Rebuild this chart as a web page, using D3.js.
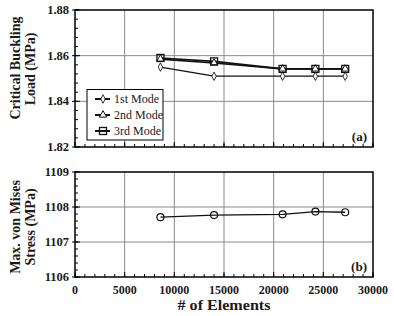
<!DOCTYPE html>
<html><head><meta charset="utf-8">
<script src="https://cdn.jsdelivr.net/npm/d3@7"></script>
<style>body{margin:0;background:#fff}</style>
</head><body><svg id="c" width="394" height="316" style="font-family:'Liberation Serif','Times New Roman','DejaVu Serif',serif"></svg>
<script>
const elements = [8600, 14000, 20900, 24200, 27200];
const mode1 = [1.855, 1.851, 1.851, 1.851, 1.851];
const mode2 = [1.8585, 1.8568, 1.8542, 1.8542, 1.8542];
const mode3 = [1.8590, 1.8575, 1.8542, 1.8542, 1.8542];
const vonMises = [1107.71, 1107.77, 1107.79, 1107.87, 1107.85];
const xTicks = [0, 5000, 10000, 15000, 20000, 25000, 30000];
const yTicksA = [1.82, 1.84, 1.86, 1.88];
const yTicksB = [1106, 1107, 1108, 1109];
const legendLabels = ["1st Mode", "2nd Mode", "3rd Mode"];

const FONT = "'Liberation Serif','Times New Roman','DejaVu Serif',serif";
const svg = d3.select("#c");
const L = 75, R = 373;
const x = d3.scaleLinear().domain([0, 30000]).range([L, R]);
const yA = d3.scaleLinear().domain([1.82, 1.88]).range([147, 10]);
const yB = d3.scaleLinear().domain([1106, 1109]).range([277, 172]);

function txt(sel, size, weight) {
  return sel.style("font-family", FONT).style("font-size", size + "px")
    .style("font-weight", weight || "bold").style("fill", "#1a1a1a");
}

function panel(y, yTicks, minorStep, fmt, showX) {
  const g = svg.append("g");
  const [y0, y1] = y.range();
  g.selectAll(".gx").data(xTicks.slice(1, -1)).join("line")
    .attr("x1", d => x(d)).attr("x2", d => x(d)).attr("y1", y1).attr("y2", y0)
    .attr("stroke", "#8a8a8a").attr("stroke-width", 1);
  g.selectAll(".gy").data(yTicks.slice(1, -1)).join("line")
    .attr("x1", L).attr("x2", R).attr("y1", d => y(d)).attr("y2", d => y(d))
    .attr("stroke", "#8a8a8a").attr("stroke-width", 1);
  const dom = y.domain();
  const ym = d3.range(dom[0], dom[1] + minorStep / 2, minorStep);
  g.selectAll(".my").data(ym).join("line")
    .attr("x1", L).attr("x2", L + 3).attr("y1", d => y(d)).attr("y2", d => y(d))
    .attr("stroke", "#000").attr("stroke-width", 1);
  g.selectAll(".My").data(yTicks).join("line")
    .attr("x1", L - 3).attr("x2", L + 5).attr("y1", d => y(d)).attr("y2", d => y(d))
    .attr("stroke", "#000").attr("stroke-width", 1);
  const xm = d3.range(0, 30001, 1000);
  g.selectAll(".mx").data(xm).join("line")
    .attr("x1", d => x(d)).attr("x2", d => x(d)).attr("y1", y0).attr("y2", y0 - 3)
    .attr("stroke", "#000").attr("stroke-width", 1);
  g.selectAll(".Mx").data(xTicks).join("line")
    .attr("x1", d => x(d)).attr("x2", d => x(d)).attr("y1", y0).attr("y2", y0 - 5)
    .attr("stroke", "#000").attr("stroke-width", 1);
  g.append("rect").attr("x", L).attr("y", y1).attr("width", R - L).attr("height", y0 - y1)
    .attr("fill", "none").attr("stroke", "#000").attr("stroke-width", 1.5);
  txt(g.selectAll(".yl").data(yTicks).join("text")
    .attr("x", L - 6).attr("y", d => y(d) + 4).attr("text-anchor", "end").text(fmt), 12.5);
  if (showX) {
    txt(g.selectAll(".xl").data(xTicks).join("text")
      .attr("x", d => x(d)).attr("y", y0 + 17).attr("text-anchor", "middle").text(d => d), 12);
  }
  return g;
}

panel(yA, yTicksA, 0.004, d => d.toFixed(2), false);
panel(yB, yTicksB, 0.2, d => d, true);

const lineA = d3.line().x((d, i) => x(elements[i])).y(d => yA(d));
const series = [mode1, mode2, mode3];
const widths = [1.3, 1.6, 1.6];
series.forEach((s, k) => {
  svg.append("path").attr("d", lineA(s)).attr("fill", "none")
    .attr("stroke", "#111").attr("stroke-width", widths[k]);
});
function marker(g, type, cx, cy) {
  if (type === 0) {
    g.append("path").attr("d", d3.symbol(d3.symbolDiamond, 26)())
      .attr("transform", `translate(${cx},${cy}) scale(0.8,0.9)`)
      .attr("fill", "#fff").attr("stroke", "#111").attr("stroke-width", 1);
  } else if (type === 1) {
    g.append("path").attr("d", d3.symbol(d3.symbolTriangle, 24)())
      .attr("transform", `translate(${cx},${cy})`)
      .attr("fill", "#fff").attr("stroke", "#111").attr("stroke-width", 1);
  } else if (type === 2) {
    g.append("rect").attr("x", cx - 3.5).attr("y", cy - 3.5).attr("width", 7).attr("height", 7)
      .attr("fill", "none").attr("stroke", "#111").attr("stroke-width", 1.3);
  } else {
    g.append("circle").attr("cx", cx).attr("cy", cy).attr("r", 3.5)
      .attr("fill", "#fff").attr("stroke", "#111").attr("stroke-width", 1.2);
  }
}
const mg = svg.append("g");
series.forEach((s, k) => s.forEach((v, i) => marker(mg, k, x(elements[i]), yA(v))));

const lineB = d3.line().x((d, i) => x(elements[i])).y(d => yB(d));
svg.append("path").attr("d", lineB(vonMises)).attr("fill", "none")
  .attr("stroke", "#111").attr("stroke-width", 1.3);
vonMises.forEach((v, i) => marker(mg, 3, x(elements[i]), yB(v)));

const lg = svg.append("g");
lg.append("rect").attr("x", 87).attr("y", 89.5).attr("width", 76).attr("height", 50.5)
  .attr("fill", "#fff").attr("stroke", "#000").attr("stroke-width", 1);
legendLabels.forEach((t, k) => {
  const ly = 99 + k * 16;
  lg.append("line").attr("x1", 95).attr("x2", 110).attr("y1", ly).attr("y2", ly)
    .attr("stroke", "#111").attr("stroke-width", 2);
  marker(lg, k, 103, ly);
  txt(lg.append("text").attr("x", 114).attr("y", ly + 4).text(t), 12, "normal");
});

txt(svg.append("text").attr("x", 367).attr("y", 141).attr("text-anchor", "end").text("(a)"), 13);
txt(svg.append("text").attr("x", 367).attr("y", 271).attr("text-anchor", "end").text("(b)"), 13);

function ytitle(text, bx, cy) {
  txt(svg.append("text").attr("transform", `translate(${bx},${cy}) rotate(-90)`)
    .attr("text-anchor", "middle").text(text), 14);
}
ytitle("Critical Buckling", 20, 68);
ytitle("Load (MPa)", 35, 69);
ytitle("Max. von Mises", 20, 227);
ytitle("Stress (MPa)", 35, 227);
txt(svg.append("text").attr("x", 224).attr("y", 310).attr("text-anchor", "middle")
  .attr("transform", "translate(224,0) scale(1.15,1) translate(-224,0)").text("# of Elements"), 14);
</script></body></html>
